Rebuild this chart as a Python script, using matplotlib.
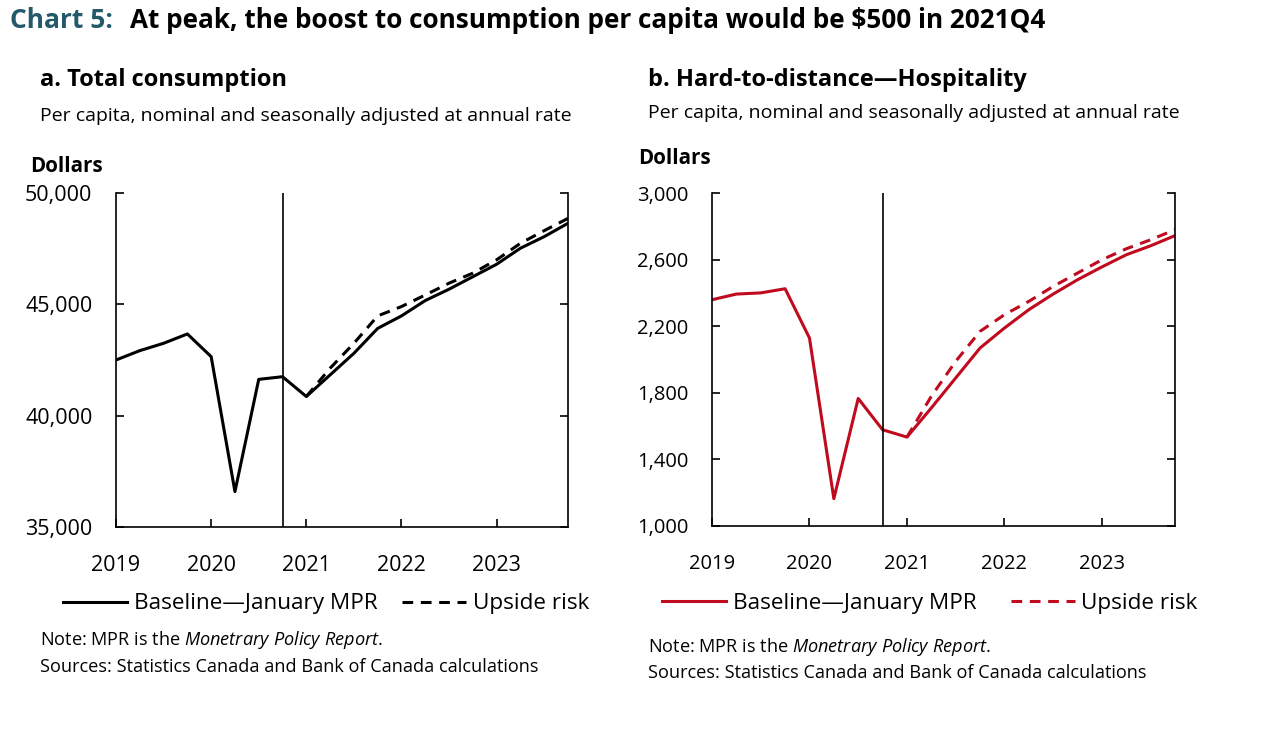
import matplotlib
matplotlib.use("Agg")
import matplotlib.pyplot as plt
from matplotlib.lines import Line2D

plt.rcParams['font.family'] = ['Open Sans', 'DejaVu Sans']
plt.rcParams['mathtext.fontset'] = 'custom'
plt.rcParams['mathtext.it'] = 'Open Sans:italic'
plt.rcParams['mathtext.rm'] = 'Open Sans'

# quarters 2019Q1 .. 2023Q4
quarters = list(range(20))
year_ticks = [0, 4, 8, 12, 16]
year_labels = ['2019', '2020', '2021', '2022', '2023']

# a. Total consumption, dollars per capita
total_base = [42500, 42920, 43250, 43670, 42650, 36590, 41630, 41750,
              40860, 41830, 42800, 43920, 44480, 45170, 45680, 46240,
              46800, 47520, 48040, 48640]
total_up_q = list(range(8, 20))
total_up = [40860, 42130, 43250, 44480, 44900, 45420, 45950, 46400,
            47000, 47740, 48310, 48860]

# b. Hard-to-distance - Hospitality
hosp_base = [2359, 2393, 2400, 2425, 2129, 1164, 1766, 1578,
             1534, 1709, 1889, 2069, 2189, 2299, 2393, 2479,
             2556, 2629, 2683, 2744]
hosp_up_q = list(range(8, 20))
hosp_up = [1534, 1779, 1989, 2169, 2269, 2349, 2439, 2519,
           2599, 2665, 2719, 2780]

cut_q = 7  # 2020Q4, last actual

RED = '#C00A1E'
TEAL = '#23596A'
DASH = (0, (3.5, 2.5))

fig = plt.figure(figsize=(12.75, 7.33), dpi=100)
W, H = 1275, 733

def fx(px):
    return px / W

def fy(py):
    return 1 - py / H

ax1 = fig.add_axes([fx(116), fy(527), fx(568 - 116), (527 - 193) / H])
ax2 = fig.add_axes([fx(712), fy(526), fx(1175 - 712), (526 - 193) / H])


def style(ax, ylim, yticks, ylabels, fs):
    ax.set_xlim(0, 19)
    ax.set_ylim(*ylim)
    ax.set_xticks(year_ticks)
    ax.set_xticklabels(year_labels)
    ax.set_yticks(yticks)
    ax.set_yticklabels(ylabels)
    ax.spines['top'].set_visible(False)
    for s in ['left', 'right', 'bottom']:
        ax.spines[s].set_linewidth(1.2)
    ax.tick_params(axis='both', direction='in', length=6, width=1.2,
                   labelsize=fs, right=True)
    ax.tick_params(axis='x', pad=20)
    ax.tick_params(axis='y', pad=17)
    ax.axvline(cut_q, color='black', linewidth=1.2)


ax1.plot(quarters, total_base, color='black', linewidth=2.2)
ax1.plot(total_up_q, total_up, color='black', linewidth=2.2, linestyle=DASH)
style(ax1, (35000, 50000), [35000, 40000, 45000, 50000],
      ['35,000', '40,000', '45,000', '50,000'], 15.5)

ax2.plot(quarters, hosp_base, color=RED, linewidth=2.2)
ax2.plot(hosp_up_q, hosp_up, color=RED, linewidth=2.2, linestyle=DASH)
style(ax2, (1000, 3000), [1000, 1400, 1800, 2200, 2600, 3000],
      ['1,000', '1,400', '1,800', '2,200', '2,600', '3,000'], 14.5)

# titles
fig.text(fx(10), fy(20), 'Chart 5:', color=TEAL, fontsize=19, fontweight='bold', va='center')
fig.text(fx(130), fy(20), 'At peak, the boost to consumption per capita would be $500 in 2021Q4',
         color='black', fontsize=18.8, fontweight='bold', va='center')

fig.text(fx(40), fy(80), 'a. Total consumption', fontsize=17, fontweight='bold', va='center')
fig.text(fx(40), fy(116), 'Per capita, nominal and seasonally adjusted at annual rate',
         fontsize=14, va='center')
fig.text(fx(30), fy(166), 'Dollars', fontsize=14.8, fontweight='bold', va='center')

fig.text(fx(648), fy(80), 'b. Hard-to-distance\u2014Hospitality', fontsize=17,
         fontweight='bold', va='center')
fig.text(fx(648), fy(113), 'Per capita, nominal and seasonally adjusted at annual rate',
         fontsize=14, va='center')
fig.text(fx(638), fy(158), 'Dollars', fontsize=14.8, fontweight='bold', va='center')

# legends
for color, cx, cy, cs in [('black', 326, 604, 1.1), (RED, 930, 603, 1.5)]:
    handles = [Line2D([], [], color=color, linewidth=2.2),
               Line2D([], [], color=color, linewidth=2.2, linestyle=DASH)]
    fig.legend(handles, ['Baseline\u2014January MPR', 'Upside risk'], loc='center',
               bbox_to_anchor=(fx(cx), fy(cy)), ncol=2, frameon=False,
               fontsize=16.2, handlelength=2.85, columnspacing=cs, handletextpad=0.3)

# notes
for x0, ny, sy in [(40, 640, 667), (648, 647, 673)]:
    fig.text(fx(x0), fy(ny), 'Note: MPR is the $\\it{Monetrary\\ Policy\\ Report}$.',
             fontsize=13.1, va='center')
    fig.text(fx(x0), fy(sy), 'Sources: Statistics Canada and Bank of Canada calculations',
             fontsize=13.1, va='center')

fig.savefig('out.png', dpi=100, facecolor='white')
